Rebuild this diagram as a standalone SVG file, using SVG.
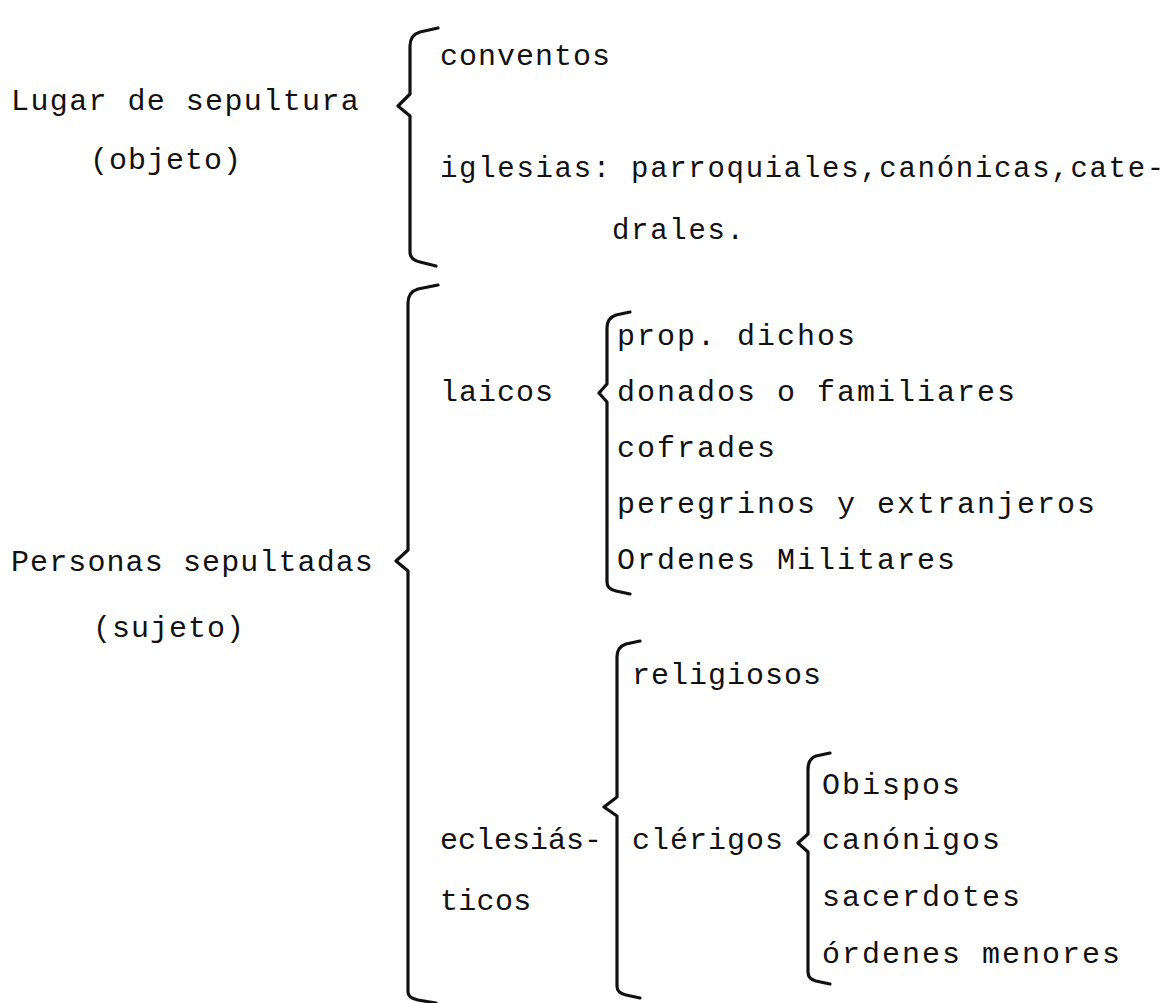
<svg xmlns="http://www.w3.org/2000/svg" width="1173" height="1003" viewBox="0 0 1173 1003">
<style>
text{font-family:"Liberation Mono","DejaVu Sans Mono",monospace;font-size:30px;letter-spacing:2px;fill:#111}
.n{letter-spacing:1px}
.c{font-size:29px;letter-spacing:1.7px}
.br{fill:none;stroke:#111;stroke-width:3.2;stroke-linecap:round;stroke-linejoin:round}
</style>
<rect width="1173" height="1003" fill="#fff"/>
<g id="connectors">
<path class="br" d="M438,28 L420,32 Q410,35 410,46 L410,94 L398,106 L410,116 L410,252 Q410,260 420,262 L436,266"/>
<path class="br" d="M438,285 L418,289 Q408,292 408,303 L408,550 L396,561 L408,571 L408,992 Q408,998 418,1000 L436,1003"/>
<path class="br" d="M630,312 L616,315 Q607,318 607,328 L607,384 L599,393 L607,402 L607,582 Q607,589 616,591 L630,594"/>
<path class="br" d="M640,641 L626,644 Q617,647 617,657 L617,797 L604,807 L617,816 L617,986 Q617,993 626,995 L640,998"/>
<path class="br" d="M830,753 L816,756 Q808,759 808,769 L808,834 L798,843 L808,852 L808,972 Q808,979 816,981 L830,984"/>
</g>
<g id="lugar"><text x="11" y="110" style="letter-spacing:1.4px">Lugar de sepultura</text><text x="90" y="169" class="n">(objeto)</text></g>
<g id="conventos"><text x="440" y="65" class="n">conventos</text></g>
<g id="iglesias"><text x="440" y="177" class="c">iglesias: parroquiales,canónicas,cate-</text><text x="612" y="239" class="c">drales.</text></g>
<g id="personas"><text x="11" y="571" style="letter-spacing:1.1px">Personas sepultadas</text><text x="93" y="637" class="n">(sujeto)</text></g>
<g id="laicos"><text x="440" y="401" class="n">laicos</text></g>
<g id="laicos-items">
<text x="617" y="345">prop. dichos</text>
<text x="617" y="401">donados o familiares</text>
<text x="617" y="457">cofrades</text>
<text x="617" y="513">peregrinos y extranjeros</text>
<text x="617" y="569">Ordenes Militares</text>
</g>
<g id="eclesiasticos"><text x="440" y="849" style="letter-spacing:0">eclesiás-</text><text x="440" y="910" style="letter-spacing:0.3px">ticos</text></g>
<g id="religiosos"><text x="632" y="684" class="n">religiosos</text></g>
<g id="clerigos"><text x="632" y="849" class="n">clérigos</text></g>
<g id="clerigos-items">
<text x="822" y="794">Obispos</text>
<text x="822" y="849">canónigos</text>
<text x="822" y="906">sacerdotes</text>
<text x="822" y="963">órdenes menores</text>
</g>
</svg>
